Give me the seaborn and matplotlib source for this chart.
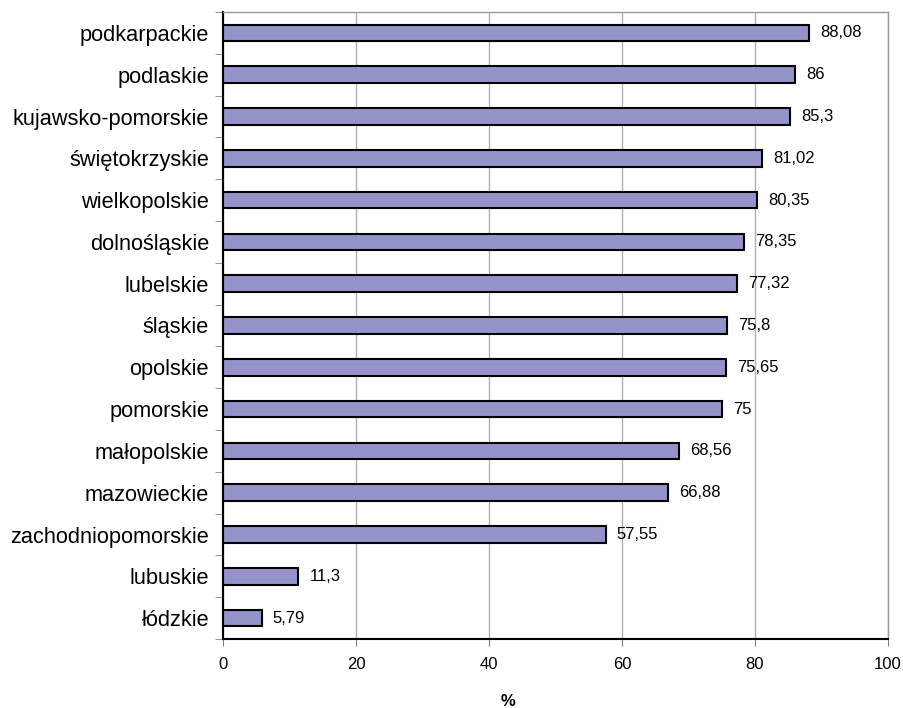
import pandas as pd
import matplotlib
matplotlib.use("Agg")
import matplotlib.pyplot as plt
import seaborn as sns
from matplotlib.ticker import FixedLocator

# dane: odsetek wg województw
regions = ["podkarpackie", "podlaskie", "kujawsko-pomorskie", "świętokrzyskie",
           "wielkopolskie", "dolnośląskie", "lubelskie", "śląskie", "opolskie",
           "pomorskie", "małopolskie", "mazowieckie", "zachodniopomorskie",
           "lubuskie", "łódzkie"]
values = [88.08, 86, 85.3, 81.02, 80.35, 78.35, 77.32, 75.8, 75.65,
          75, 68.56, 66.88, 57.55, 11.3, 5.79]
labels = ["88,08", "86", "85,3", "81,02", "80,35", "78,35", "77,32", "75,8",
          "75,65", "75", "68,56", "66,88", "57,55", "11,3", "5,79"]

df = pd.DataFrame({"region": regions, "value": values})

sns.set_style("white")
plt.rcParams['font.family'] = ['Liberation Sans', 'DejaVu Sans']
plt.rcParams['text.color'] = 'black'
plt.rcParams['xtick.labelcolor'] = 'black'
plt.rcParams['ytick.labelcolor'] = 'black'

fig = plt.figure(figsize=(9.04, 7.08), dpi=100)
ax = fig.add_axes([223 / 904, 1 - 639 / 708, (888 - 223) / 904, (639 - 12) / 708])

sns.barplot(data=df, x="value", y="region", orient="h", color="#9393C9",
            saturation=1, width=0.4, edgecolor="black", linewidth=1.5, ax=ax)

ax.set_xlim(0, 100)
ax.set_ylim(len(regions) - 0.5, -0.5)
ax.set_xticks([0, 20, 40, 60, 80, 100])
ax.tick_params(axis="x", labelsize=12, length=5, color="#808080", pad=8,
               bottom=True, labelcolor="black")
ax.tick_params(axis="y", which="major", labelsize=15.7, length=0, pad=10,
               labelcolor="black")
ax.yaxis.set_minor_locator(FixedLocator([i - 0.5 for i in range(len(regions) + 1)]))
ax.tick_params(axis="y", which="minor", length=6, color="#808080", left=True)
ax.set_xlabel("")
ax.set_ylabel("")

ax.xaxis.grid(True, color="#b0b0b0", linewidth=1)
ax.set_axisbelow(True)
for side in ["top", "right"]:
    ax.spines[side].set_color("#999999")
    ax.spines[side].set_linewidth(1)
for side in ["left", "bottom"]:
    ax.spines[side].set_color("black")
    ax.spines[side].set_linewidth(1.5)

for i, (v, lab) in enumerate(zip(values, labels)):
    ax.annotate(lab, (v, i), xytext=(8, 0), textcoords="offset points",
                va="center", ha="left", fontsize=12, color="black")

fig.text(508 / 904, 1 - 701 / 708, "%", ha="center", va="center",
         fontsize=12, fontweight="bold", color="black")

fig.savefig("out.png", dpi=100)
